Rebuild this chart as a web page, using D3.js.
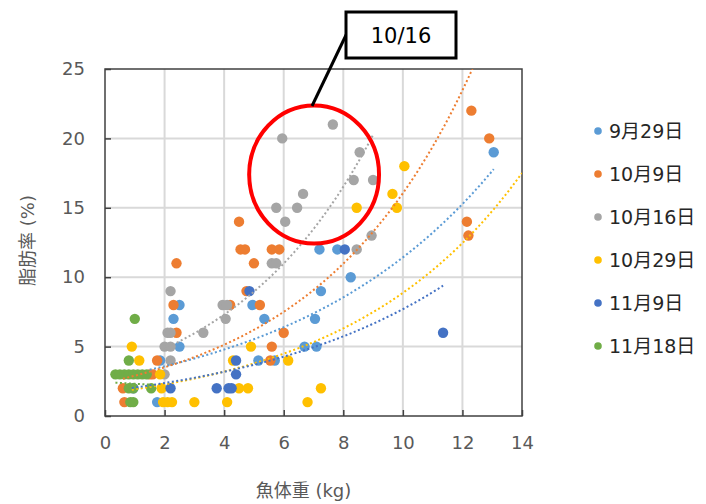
<!DOCTYPE html>
<html>
<head>
<meta charset="utf-8">
<script src="https://cdn.jsdelivr.net/npm/d3@7"></script>
<style>
  body { margin: 0; background: #fff; }
  svg { display: block; font-family: "DejaVu Sans", "Noto Sans CJK JP", sans-serif; }
</style>
</head>
<body>
<svg id="chart" width="706" height="504"></svg>
<script>
const margin = { top: 69, right: 184, bottom: 88, left: 105 };
const width = 706 - margin.left - margin.right;
const height = 504 - margin.top - margin.bottom;

// sampling dates and Excel default palette
const seriesNames = ['9月29日', '10月9日', '10月16日', '10月29日', '11月9日', '11月18日'];
const colors = ['#5B9BD5', '#ED7D31', '#A5A5A5', '#FFC000', '#4472C4', '#70AD47'];

// [fish weight kg, fat %]
const sep29 = [[1.75, 1], [1.85, 4], [2.3, 7], [2.5, 8], [2.5, 5], [4.95, 8], [5.35, 7], [5.15, 4],
  [5.7, 4], [6.7, 5], [7.1, 5], [7.05, 7], [7.25, 9], [8.25, 10], [7.2, 12], [7.8, 12], [13.05, 19]];
const oct9 = [[0.6, 2], [0.65, 1], [1.5, 3], [1.6, 3], [1.75, 4], [2.3, 8], [2.4, 6], [2.4, 11],
  [4.2, 8], [4.5, 14], [4.55, 12], [4.7, 12], [4.75, 9], [5.0, 11], [5.2, 8], [5.55, 4], [5.6, 5],
  [5.6, 12], [5.85, 12], [6.0, 6], [12.15, 14], [12.2, 13], [12.3, 22], [12.9, 20]];
const oct16 = [[2.0, 3], [2.2, 4], [2.0, 5], [2.2, 5], [2.1, 6], [2.2, 6], [2.2, 9], [3.3, 6],
  [3.95, 8], [4.1, 8], [4.05, 7], [5.6, 11], [5.75, 11], [5.75, 15], [5.95, 20], [6.05, 14],
  [6.45, 15], [6.65, 16], [7.65, 21], [8.35, 17], [8.45, 12], [8.55, 19], [8.95, 13], [9.0, 17]];
const oct29 = [[0.9, 5], [1.15, 4], [1.85, 3], [1.9, 2], [1.95, 1], [2.1, 1], [2.25, 1], [3.0, 1],
  [4.1, 1], [4.3, 4], [4.5, 2], [4.8, 2], [4.9, 5], [6.15, 4], [6.8, 1], [7.25, 2], [8.45, 15],
  [9.65, 16], [9.8, 15], [10.05, 18]];
const nov9 = [[0.95, 2], [2.2, 2], [3.75, 2], [4.15, 2], [4.25, 2], [4.4, 3], [4.4, 4], [4.85, 9],
  [8.05, 12], [11.35, 6]];
const nov18 = [[0.35, 3], [0.5, 3], [0.65, 3], [0.8, 3], [0.95, 3], [1.1, 3], [1.25, 3], [1.4, 3],
  [0.8, 4], [0.8, 2], [0.95, 2], [1.55, 2], [0.85, 1], [0.95, 1], [1.0, 7]];
const seriesData = [sep29, oct9, oct16, oct29, nov9, nov18];

// exponential trendlines y = a·e^(bx), coefficients
const trendA = [2.68, 2.40, 3.23, 1.62, 1.77, 2.45];
const trendB = [0.145, 0.19, 0.204, 0.17, 0.147, -0.052];
const trendFrom = [1.5, 0.6, 2.0, 0.9, 0.9, 0.35];
const trendTo = [13.05, 12.9, 9.0, 14, 11.35, 1.6];

const xTicks = [0, 2, 4, 6, 8, 10, 12, 14];
const yTicks = [0, 5, 10, 15, 20, 25];

const svg = d3.select('#chart');
const g = svg.append('g').attr('transform', 'translate(' + margin.left + ',' + margin.top + ')');

const x = d3.scaleLinear().domain([0, 14]).range([0, width]);
const y = d3.scaleLinear().domain([0, 25]).range([height, 0]);

g.append('clipPath').attr('id', 'plotclip')
  .append('rect').attr('width', width).attr('height', height);

// gridlines
g.append('g').selectAll('line').data(xTicks.slice(1, -1)).enter().append('line')
  .attr('x1', d => x(d)).attr('x2', d => x(d)).attr('y1', 0).attr('y2', height)
  .attr('stroke', '#d9d9d9').attr('stroke-width', 2);
g.append('g').selectAll('line').data(yTicks.slice(1, -1)).enter().append('line')
  .attr('y1', d => y(d)).attr('y2', d => y(d)).attr('x1', 0).attr('x2', width)
  .attr('stroke', '#d9d9d9').attr('stroke-width', 2);

// frame
g.append('rect').attr('width', width).attr('height', height)
  .attr('fill', 'none').attr('stroke', '#404040').attr('stroke-width', 1.5);

// axes with inward ticks
const xAxis = g.append('g').attr('transform', 'translate(0,' + height + ')')
  .call(d3.axisBottom(x).tickValues(xTicks).tickSize(-6).tickPadding(20));
const yAxis = g.append('g')
  .call(d3.axisLeft(y).tickValues(yTicks).tickSize(-6).tickPadding(20));
[xAxis, yAxis].forEach(a => {
  a.select('.domain').remove();
  a.selectAll('line').attr('stroke', '#404040').attr('stroke-width', 1.5);
  a.selectAll('text').attr('fill', '#595959').style('font-size', '18px')
    .style('font-family', '"DejaVu Sans", sans-serif');
});

// points
seriesData.forEach(function (pts, i) {
  g.append('g').selectAll('circle').data(pts).enter().append('circle')
    .attr('cx', d => x(d[0])).attr('cy', d => y(d[1])).attr('r', 5.2)
    .attr('fill', colors[i]);
});

// dotted trendlines
seriesData.forEach(function (pts, i) {
  const x0 = trendFrom[i], x1 = trendTo[i];
  const xs = d3.range(0, 101).map(k => x0 + (x1 - x0) * k / 100);
  const line = d3.line().x(d => x(d)).y(d => y(trendA[i] * Math.exp(trendB[i] * d)));
  g.append('path').datum(xs)
    .attr('clip-path', 'url(#plotclip)')
    .attr('d', line)
    .attr('fill', 'none')
    .attr('stroke', colors[i])
    .attr('stroke-width', 2)
    .attr('stroke-dasharray', '2,2.5');
});

// axis titles
svg.append('text')
  .attr('transform', 'translate(28,' + (margin.top + height / 2 - 2) + ') rotate(-90)')
  .attr('text-anchor', 'middle').attr('dy', '0.35em')
  .attr('fill', '#595959').style('font-size', '18px')
  .text('脂肪率 (%)');
svg.append('text')
  .attr('x', margin.left + width / 2 - 10).attr('y', 497)
  .attr('text-anchor', 'middle')
  .attr('fill', '#595959').style('font-size', '18px')
  .text('魚体重 (kg)');

// legend
const legend = svg.append('g').selectAll('g').data(seriesNames).enter().append('g')
  .attr('transform', (d, i) => 'translate(598,' + (131 + i * 43) + ')');
legend.append('circle').attr('r', 3.8).attr('fill', (d, i) => colors[i]);
legend.append('text').attr('x', 11).attr('dy', '0.36em')
  .attr('fill', '#262626').style('font-size', '19px')
  .text(d => d);

// 10/16 callout
g.append('ellipse')
  .attr('cx', x(7.02)).attr('cy', y(17.4))
  .attr('rx', x(2.18) - x(0)).attr('ry', y(0) - y(4.97))
  .attr('fill', 'none').attr('stroke', '#ff0000').attr('stroke-width', 4);
svg.append('line')
  .attr('x1', 347).attr('y1', 33).attr('x2', 312).attr('y2', 106)
  .attr('stroke', '#000').attr('stroke-width', 3);
svg.append('rect')
  .attr('x', 346).attr('y', 12).attr('width', 110).attr('height', 46)
  .attr('fill', '#fff').attr('stroke', '#000').attr('stroke-width', 3);
svg.append('text')
  .attr('x', 401).attr('y', 35).attr('dy', '0.36em')
  .attr('text-anchor', 'middle').attr('fill', '#000').style('font-size', '21px')
  .text('10/16');
</script>
</body>
</html>
